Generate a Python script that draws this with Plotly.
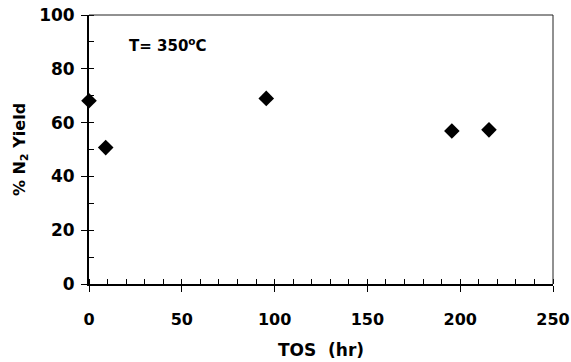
import plotly.graph_objects as go

tos_hr = [0, 9, 95.5, 195.5, 215.5]
n2_yield = [68.1, 50.7, 69.0, 56.9, 57.3]
x_ticks = [0, 50, 100, 150, 200, 250]
y_ticks = [0, 20, 40, 60, 80, 100]

FONT = "DejaVu Sans, Liberation Sans, Arial, sans-serif"

fig = go.Figure()
fig.add_trace(go.Scatter(
    x=tos_hr, y=n2_yield, mode="markers",
    marker=dict(symbol="diamond", size=12, color="black"),
    showlegend=False, cliponaxis=False,
))

fig.add_annotation(
    x=20.5, y=89, xref="x", yref="y", xanchor="left", yanchor="middle",
    text="<b>T= 350<sup>o</sup>C</b>", showarrow=False,
    font=dict(family=FONT, size=15, color="black"),
)

# thin top and right frame lines
fig.add_shape(type="line", xref="x domain", yref="y domain", x0=0, x1=1, y0=1, y1=1,
              line=dict(color="#222", width=1))
fig.add_shape(type="line", xref="x domain", yref="y domain", x0=1, x1=1, y0=0, y1=1,
              line=dict(color="#222", width=1))

fig.update_layout(
    width=571, height=362,
    margin=dict(l=89, r=18, t=15, b=78, autoexpand=False),
    paper_bgcolor="white", plot_bgcolor="white",
    font=dict(family=FONT, color="black"),
    xaxis=dict(
        range=[0, 250], tickvals=x_ticks, showgrid=False, zeroline=False,
        showline=True, linecolor="black", linewidth=1.8, mirror=False,
        ticks="outside", ticklen=6, tickcolor="black", automargin=False,
        minor=dict(dtick=10, ticks="inside", ticklen=5, tickcolor="black", showgrid=False),
        tickfont=dict(family=FONT, size=16, color="black", weight="bold"),
        ticklabelstandoff=14,
        title=dict(text="<b>TOS  (hr)</b>", font=dict(family=FONT, size=17, color="black"), standoff=16),
    ),
    yaxis=dict(
        range=[0, 100], tickvals=y_ticks, showgrid=False, zeroline=False,
        showline=True, linecolor="black", linewidth=1.8, mirror=False,
        ticks="outside", ticklen=6, tickcolor="black", automargin=False,
        minor=dict(dtick=10, ticks="inside", ticklen=5, tickcolor="black", showgrid=False),
        tickfont=dict(family=FONT, size=17, color="black", weight="bold"),
        ticklabelstandoff=3,
        title=dict(text="<b>% N<sub>2</sub> Yield</b>", font=dict(family=FONT, size=16, color="black"), standoff=10),
    ),
)

fig.write_html("out.html")
